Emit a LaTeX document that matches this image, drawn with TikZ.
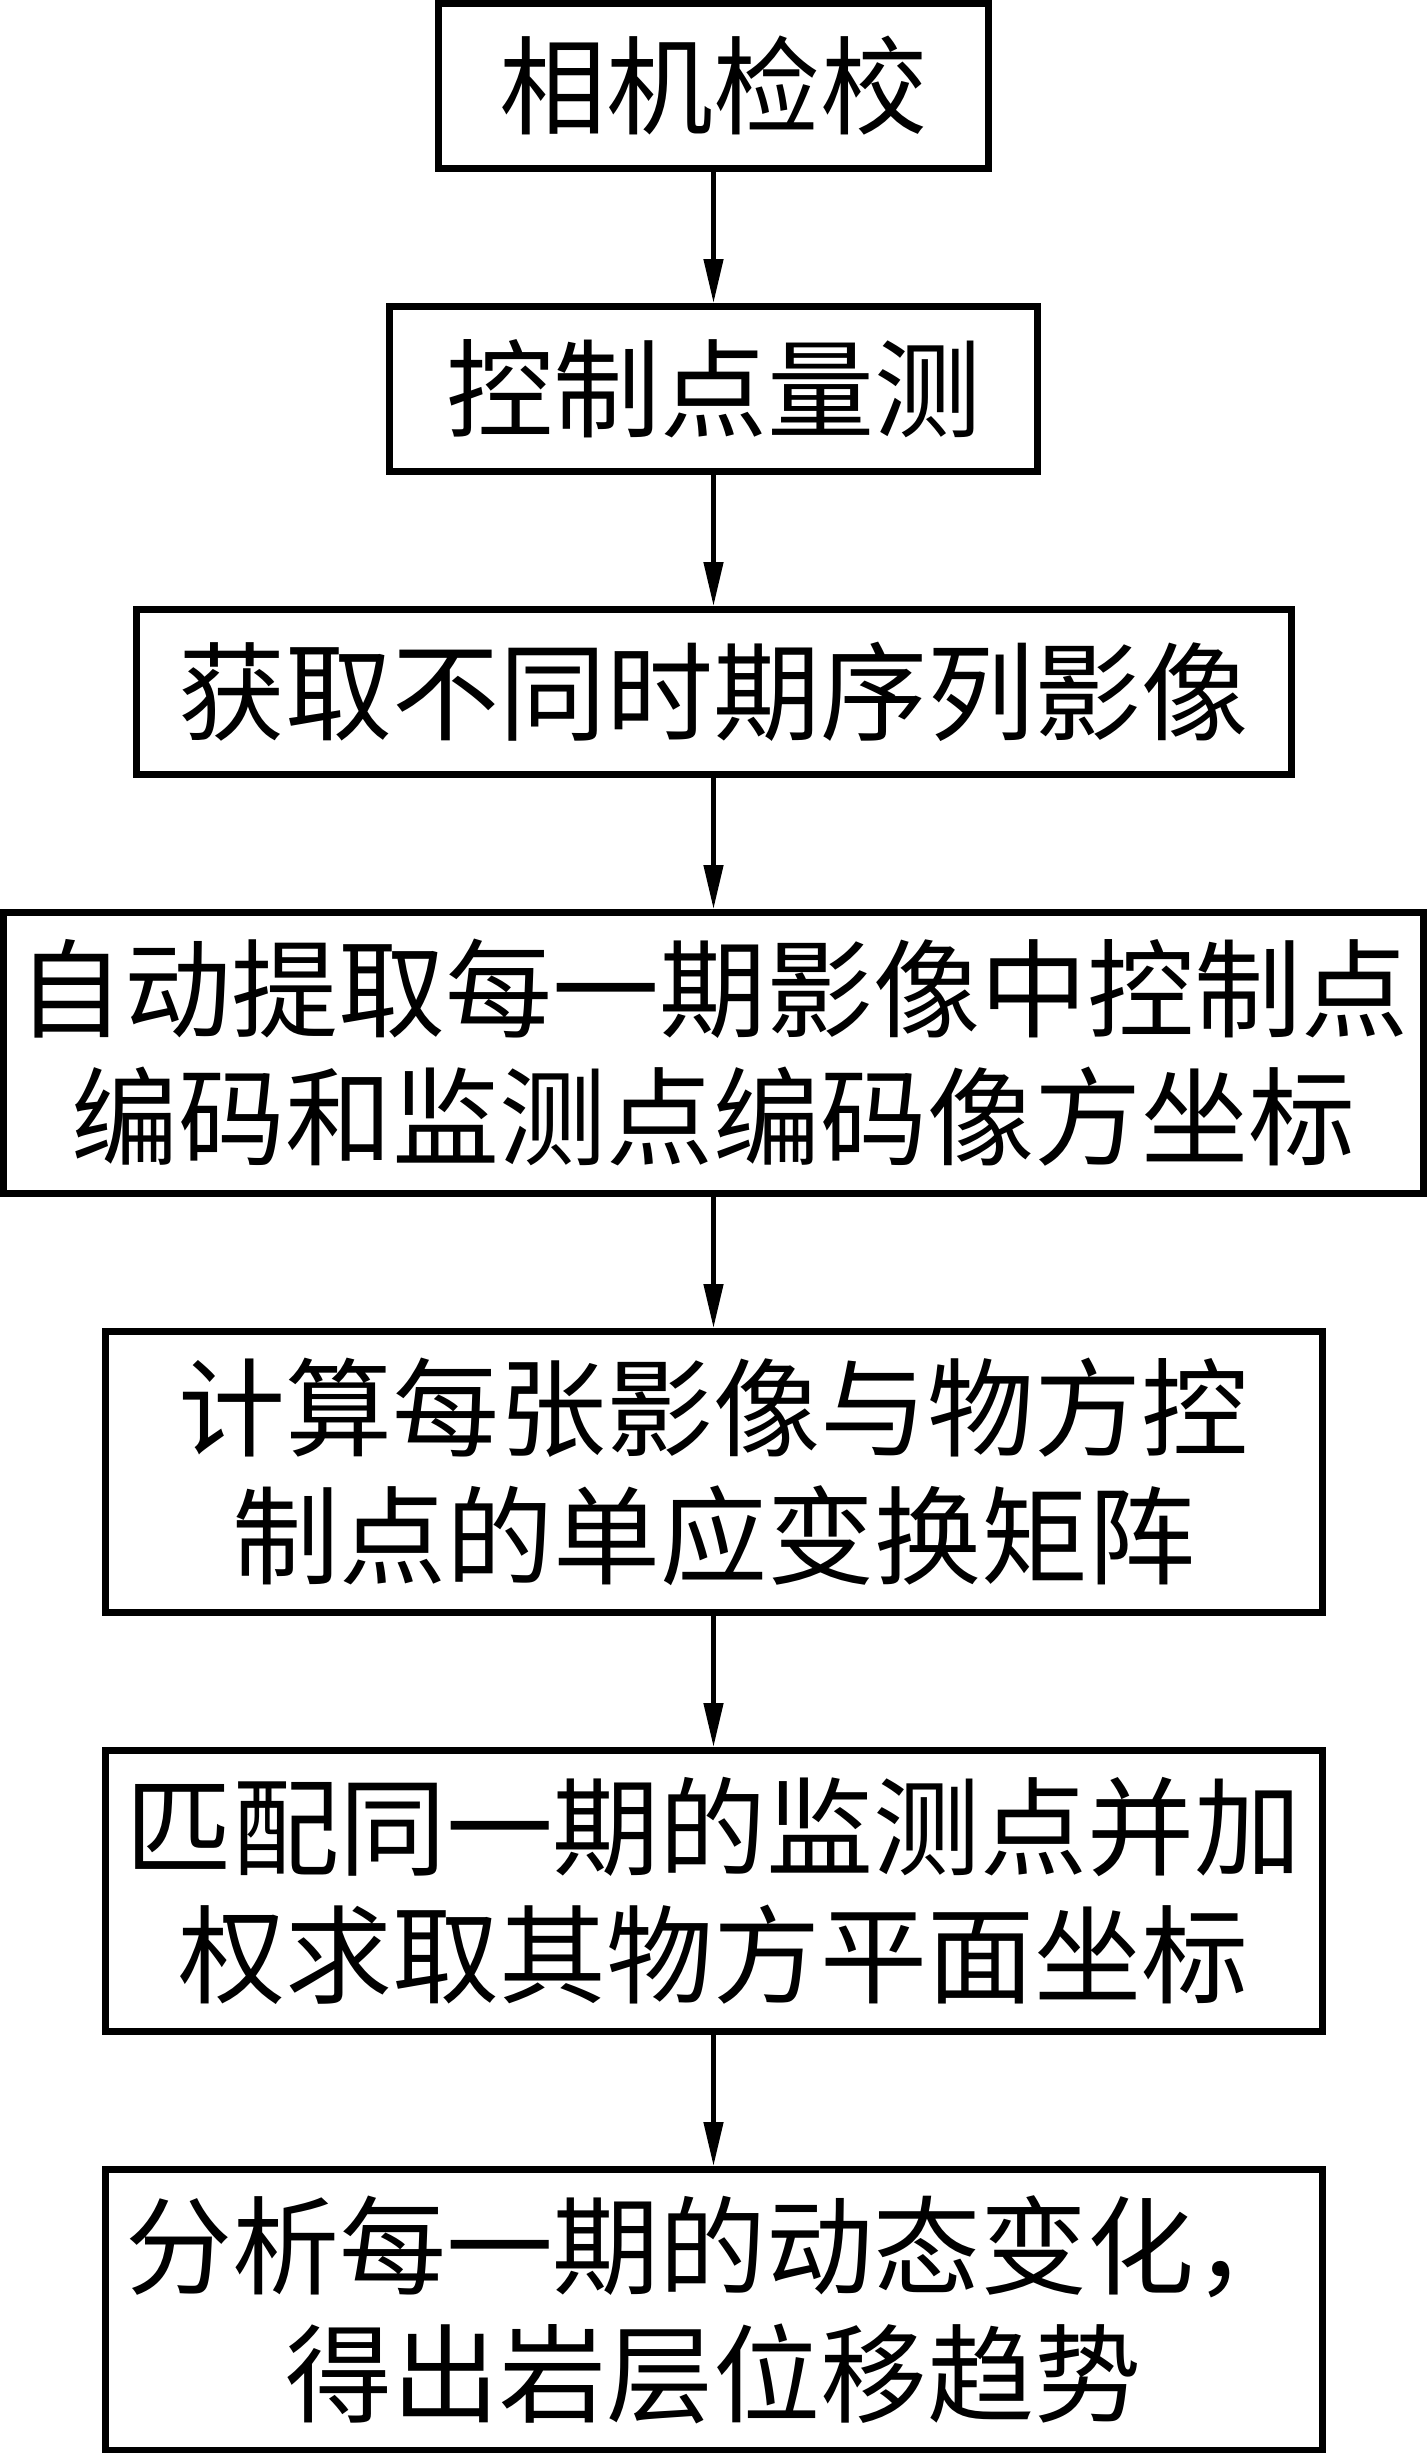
\documentclass[tikz,border=0pt]{standalone}
\usepackage{fontspec}
\newfontfamily\cjkfont{Noto Sans CJK SC}
\usetikzlibrary{arrows.meta,positioning}

\begin{document}
\begin{tikzpicture}[
  font=\cjkfont\fontsize{53.5pt}{64pt}\selectfont,
  box/.style={
    draw=black,
    line width=3.5pt,
    align=center,
    minimum width=608.5pt,
    minimum height=140.5pt,
    inner sep=0pt
  },
  smallbox/.style={box, minimum height=82.5pt},
  arrow/.style={-{Triangle[length=22pt,width=9.5pt]}, line width=2.3pt}
]
\useasboundingbox (0,0) rectangle (713.5pt,-1226.5pt);

\node[smallbox, minimum width=275pt, anchor=north] (calib) at (356.75pt,0) {相机检校};
\node[smallbox, minimum width=324pt, below=65.5pt of calib] (measure) {控制点量测};
\node[smallbox, minimum width=577.5pt, below=65.5pt of measure] (images) {获取不同时期序列影像};
\node[box, minimum width=710pt, below=65.5pt of images] (extract) {自动提取每一期影像中控制点\\编码和监测点编码像方坐标};
\node[box, below=65.5pt of extract] (homog) {计算每张影像与物方控\\制点的单应变换矩阵};
\node[box, below=65.5pt of homog] (match) {匹配同一期的监测点并加\\权求取其物方平面坐标};
\node[box, below=65.5pt of match] (trend) {分析每一期的动态变化，\\得出岩层位移趋势};

\draw[arrow] (calib) -- (measure);
\draw[arrow] (measure) -- (images);
\draw[arrow] (images) -- (extract);
\draw[arrow] (extract) -- (homog);
\draw[arrow] (homog) -- (match);
\draw[arrow] (match) -- (trend);

\end{tikzpicture}
\end{document}
